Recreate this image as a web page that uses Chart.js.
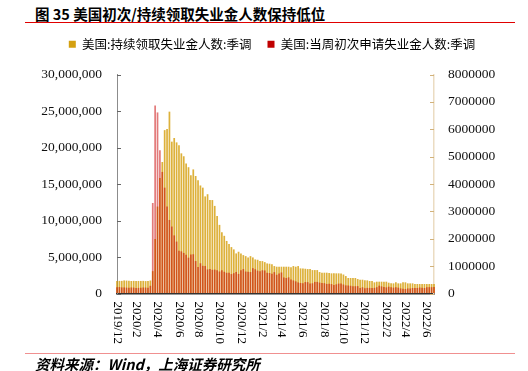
<!DOCTYPE html>
<html>
<head>
<meta charset="utf-8">
<script src="https://cdn.jsdelivr.net/npm/chart.js@4.4.1/dist/chart.umd.min.js"></script>
<style>
  html, body { margin: 0; padding: 0; background: #fff; }
  #wrap { position: relative; width: 528px; height: 371px; overflow: hidden; }
  #title { position: absolute; left: 35px; top: 3px; font: bold 14.5px "Noto Sans CJK SC"; color: #000; white-space: nowrap; }
  #topline { position: absolute; left: 25px; top: 22px; width: 490px; height: 1px; background: #e00000; }
  #bottomline { position: absolute; left: 25px; top: 353px; width: 490px; height: 1px; background: #f09090; }
  #source { position: absolute; left: 35px; top: 356px; line-height: 15px; font: italic bold 14.5px/15px "Noto Sans CJK SC"; color: #000; white-space: nowrap; }
  #chart { position: absolute; left: 0; top: 0; }
</style>
</head>
<body>
<div id="wrap">
  <div id="title">图 35 美国初次/持续领取失业金人数保持低位</div>
  <div id="topline"></div>
  <canvas id="chart" width="528" height="371"></canvas>
  <div id="bottomline"></div>
  <div id="source">资料来源：Wind，上海证券研究所</div>
</div>
<script>
// weekly, first week ending 2019/12/7 — values in thousands
const continuingClaims = [
  1720, 1730, 1730, 1790, 1770, 1740, 1710, 1730, 1700, 1720, 1720, 1730, 1700, 1700, 1780,
  3060, 7450, 11910, 15820, 18010, 22380, 22550, 24910, 20800, 21300, 20700, 20300, 19200, 18800, 17800,
  17300, 16200, 17000, 16100, 15500, 14800, 14500, 13300, 13600, 12800, 12800, 12000, 10600, 9400, 8400,
  7900, 7200, 6770, 6360, 6040, 5490, 5720, 5490, 5260, 5120, 4940, 5120, 4940, 4670, 4620,
  4440, 4440, 4300, 4120, 4080, 3990, 3760, 3670, 3670, 3670, 3670, 3670, 3670, 3580, 3760,
  3670, 3760, 3440, 3440, 3390, 3350, 3350, 3210, 3210, 3210, 2940, 2850, 2850, 2850, 2800,
  2760, 2760, 2760, 2760, 2740, 2600, 2390, 2120, 2120, 2120, 2120, 1980, 1890, 1890, 1800,
  1800, 1710, 1710, 1530, 1620, 1620, 1620, 1620, 1620, 1480, 1390, 1390, 1530, 1390, 1390,
  1530, 1530, 1390, 1390, 1390, 1300, 1300, 1300, 1300, 1300, 1300, 1300, 1300, 1300
];
const initialClaims = [
  225, 235, 222, 222, 214, 207, 220, 216, 203, 205, 210, 219, 216, 211, 282,
  3307, 6867, 6615, 5237, 4442, 3867, 3176, 2687, 2446, 2123, 1897, 1566, 1540, 1482, 1413,
  1310, 1422, 1435, 1186, 971, 1104, 1011, 1006, 881, 893, 866, 873, 849, 804, 845,
  794, 757, 758, 711, 742, 787, 716, 853, 892, 803, 790, 784, 926, 886, 836,
  812, 848, 841, 758, 749, 725, 781, 684, 728, 769, 586, 566, 590, 507, 478,
  444, 405, 385, 375, 418, 415, 364, 373, 424, 424, 399, 387, 377, 349, 354,
  345, 312, 335, 362, 364, 329, 296, 293, 283, 269, 267, 270, 199, 227, 188,
  206, 205, 198, 207, 230, 286, 261, 238, 223, 248, 232, 215, 227, 214, 187,
  171, 166, 185, 184, 200, 202, 203, 218, 210, 200, 229, 231, 231, 235
];
const seriesNames = ["美国:持续领取失业金人数:季调", "美国:当周初次申请失业金人数:季调"];
const monthTicks = ["2019/12", "2020/2", "2020/4", "2020/6", "2020/8", "2020/10", "2020/12",
  "2021/2", "2021/4", "2021/6", "2021/8", "2021/10", "2021/12", "2022/2", "2022/4", "2022/6"];

const GOLD = "#d4a010";
const RED = "#c00000";

const weekLabels = [];
const d0 = new Date(2019, 11, 7);
for (let i = 0; i < continuingClaims.length; i++) {
  const d = new Date(d0.getTime() + i * 7 * 86400000);
  weekLabels.push(d.getFullYear() + "/" + (d.getMonth() + 1) + "/" + d.getDate());
}

// leave room between legend and plot
const legendGap = {
  id: "legendGap",
  beforeInit(chart) {
    const fit = chart.legend.fit;
    chart.legend.fit = function () {
      fit.call(this);
      this.height += 14;
    };
  }
};

const axisDecor = {
  id: "axisDecor",
  afterDraw(chart) {
    const ctx = chart.ctx;
    const x = chart.scales.x, y = chart.scales.y, y1 = chart.scales.y1;
    ctx.save();
    ctx.lineWidth = 1;
    ctx.strokeStyle = "#666";
    y.ticks.forEach(t => {
      const py = Math.round(y.getPixelForValue(t.value)) + 0.5;
      ctx.beginPath(); ctx.moveTo(y.right, py); ctx.lineTo(y.right + 4, py); ctx.stroke();
    });
    ctx.strokeStyle = "#d2b27a";
    y1.ticks.forEach(t => {
      const py = Math.round(y1.getPixelForValue(t.value)) + 0.5;
      ctx.beginPath(); ctx.moveTo(y1.left - 4, py); ctx.lineTo(y1.left, py); ctx.stroke();
    });
    // rotated month labels
    ctx.font = '13px "Liberation Serif"';
    ctx.fillStyle = "#000";
    ctx.textAlign = "left";
    ctx.textBaseline = "middle";
    monthTicks.forEach(lbl => {
      const idx = weekLabels.findIndex(w => w.startsWith(lbl + "/"));
      if (idx < 0) return;
      const px = x.getPixelForValue(idx);
      ctx.save();
      ctx.translate(px, x.top + 8);
      ctx.rotate(Math.PI / 2);
      ctx.fillText(lbl, 0, 0);
      ctx.restore();
    });
    ctx.restore();
  }
};

new Chart(document.getElementById("chart"), {
  type: "bar",
  data: {
    labels: weekLabels,
    datasets: [
      {
        label: seriesNames[0],
        data: continuingClaims.map(v => v * 1000),
        backgroundColor: "rgba(212,158,10,0.8)",
        yAxisID: "y",
        grouped: false,
        order: 2,
        barPercentage: 0.72,
        categoryPercentage: 1,
        clip: false
      },
      {
        label: seriesNames[1],
        data: initialClaims.map(v => v * 1000),
        backgroundColor: "rgba(200,0,0,0.52)",
        yAxisID: "y1",
        grouped: false,
        order: 1,
        barPercentage: 0.72,
        categoryPercentage: 1,
        clip: false
      }
    ]
  },
  options: {
    responsive: false,
    animation: false,
    layout: { padding: { top: 22, left: 16, right: 0, bottom: 0 } },
    plugins: {
      legend: {
        display: true,
        position: "top",
        labels: {
          boxWidth: 7,
          boxHeight: 7,
          padding: 16,
          color: "#333",
          font: { family: "Noto Sans CJK SC", size: 12.5 },
          generateLabels: chart => seriesNames.map((name, i) => ({
            text: name,
            fillStyle: i === 0 ? GOLD : RED,
            strokeStyle: i === 0 ? GOLD : RED,
            lineWidth: 0,
            datasetIndex: i
          }))
        }
      },
      tooltip: { enabled: false }
    },
    scales: {
      x: {
        type: "category",
        offset: false,
        grid: { display: false, drawTicks: false },
        border: { display: true, color: "#333", width: 1.5 },
        ticks: { display: false },
        afterFit: s => { s.height = 77.5; }
      },
      y: {
        position: "left",
        min: 0,
        max: 30000000,
        grid: { drawOnChartArea: false, drawTicks: false },
        border: { color: "#8c8c8c", width: 1 },
        ticks: {
          stepSize: 5000000,
          padding: 15,
          color: "#111",
          font: { family: "Liberation Serif", size: 13.5 },
          callback: v => v.toLocaleString("en-US")
        },
        afterFit: s => { s.width = 101; }
      },
      y1: {
        position: "right",
        min: 0,
        max: 8000000,
        grid: { drawOnChartArea: false, drawTicks: false },
        border: { color: "#ebdcc2", width: 1.5 },
        ticks: {
          stepSize: 1000000,
          padding: 14,
          color: "#111",
          font: { family: "Liberation Serif", size: 13.5 },
          callback: v => String(v)
        },
        afterFit: s => { s.width = 94; }
      }
    }
  },
  plugins: [axisDecor, legendGap]
});
</script>
</body>
</html>
